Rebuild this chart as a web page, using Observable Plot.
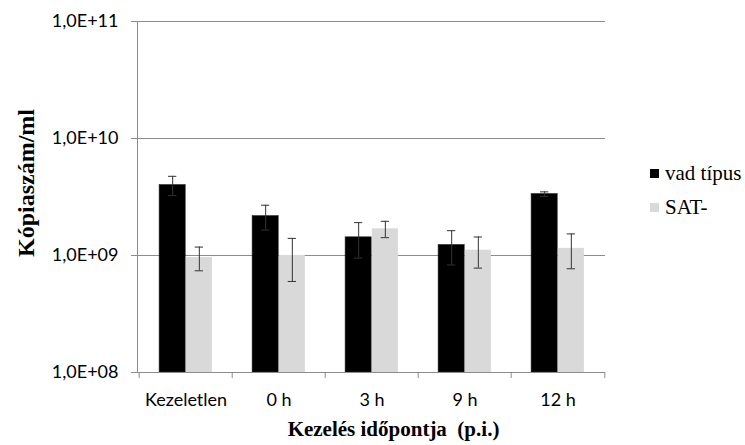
<!DOCTYPE html>
<html>
<head>
<meta charset="utf-8">
<script src="https://cdn.jsdelivr.net/npm/d3@7"></script>
<script src="https://cdn.jsdelivr.net/npm/@observablehq/plot@0.6"></script>
<style>
  html, body { margin: 0; padding: 0; background: #fff; }
  #chart { position: relative; width: 745px; height: 445px; }
  #legend { position: absolute; left: 650px; top: 156px; font-family: "Times New Roman", "Liberation Serif", "DejaVu Serif", serif; font-size: 21px; color: #000; }
  #legend .row { display: flex; align-items: center; height: 34px; }
  #legend .sw { width: 9px; height: 9px; margin-right: 6px; }
</style>
</head>
<body>
<div id="chart"></div>
<script>
// Categories (treatment time) and series values, copies/ml
const categories = ["Kezeletlen", "0 h", "3 h", "9 h", "12 h"];
const seriesNames = ["vad típus", "SAT-"];
const wildValues = [4.0e9, 2.17e9, 1.43e9, 1.23e9, 3.35e9];
const wildErrors = [0.75e9, 0.52e9, 0.48e9, 0.40e9, 0.15e9];
const satValues = [0.96e9, 1.0e9, 1.69e9, 1.11e9, 1.15e9];
const satErrors = [0.22e9, 0.40e9, 0.27e9, 0.33e9, 0.38e9];
const yTicks = [1e8, 1e9, 1e10, 1e11];
const yTitle = "Kópiaszám/ml";
const xTitle = "Kezelés időpontja  (p.i.)";

const colors = {"vad típus": "#000000", "SAT-": "#d9d9d9"};
const serif = "'Times New Roman', 'Liberation Serif', 'DejaVu Serif', serif";

const rows = [];
categories.forEach((c, i) => {
  rows.push({cat: c, series: seriesNames[0], v: wildValues[i], e: wildErrors[i]});
  rows.push({cat: c, series: seriesNames[1], v: satValues[i], e: satErrors[i]});
});
const wild = rows.filter(d => d.series === seriesNames[0]);
const sat = rows.filter(d => d.series === seriesNames[1]);

const W = 745, H = 445;
const mL = 137, mR = 140, mT = 21, mB = 73;
const bw = (W - mL - mR) / categories.length;   // band width per category
const gStart = 0.215, bFrac = 0.285, capInset = 0.095;
const gridColor = "#8c8c8c";

const fmt = d => {
  const e = Math.floor(Math.log10(d) + 1e-9);
  const m = d / Math.pow(10, e);
  return m.toFixed(1).replace(".", ",") + "E+" + String(e).padStart(2, "0");
};

// per-series horizontal placement inside a category band
const place = [
  {insetLeft: bw * gStart, insetRight: bw * (1 - gStart - bFrac)},
  {insetLeft: bw * (gStart + bFrac), insetRight: bw * (1 - gStart - 2 * bFrac)}
];
const center = [bw * (gStart + bFrac / 2 - 0.5), bw * (gStart + 1.5 * bFrac - 0.5)];

const errMarks = (data, k) => [
  Plot.ruleX(data, {x: "cat", y1: d => d.v - d.e, y2: d => d.v + d.e, dx: center[k], stroke: "#333", strokeWidth: 1}),
  Plot.tickY(data, {x: "cat", y: d => d.v + d.e, stroke: "#333", strokeWidth: 1,
    insetLeft: place[k].insetLeft + bw * capInset, insetRight: place[k].insetRight + bw * capInset}),
  Plot.tickY(data, {x: "cat", y: d => d.v - d.e, stroke: "#333", strokeWidth: 1,
    insetLeft: place[k].insetLeft + bw * capInset, insetRight: place[k].insetRight + bw * capInset})
];

const chart = Plot.plot({
  width: W,
  height: H,
  marginLeft: mL,
  marginRight: mR,
  marginTop: mT,
  marginBottom: mB,
  style: {fontFamily: "Lato, sans-serif", fontSize: "18px", color: "#000", background: "#fff"},
  x: {domain: categories, padding: 0, axis: null},
  y: {type: "log", domain: [yTicks[0], yTicks[yTicks.length - 1]], axis: null},
  marks: [
    Plot.ruleY(yTicks.slice(1), {stroke: gridColor, strokeWidth: 1}),
    Plot.barY(wild, {x: "cat", y1: yTicks[0], y2: "v", fill: colors[seriesNames[0]], stroke: "#222", strokeWidth: 0.6, ...place[0]}),
    Plot.barY(sat, {x: "cat", y1: yTicks[0], y2: "v", fill: colors[seriesNames[1]], ...place[1]}),
    ...errMarks(wild, 0),
    ...errMarks(sat, 1),
    Plot.ruleY([yTicks[0]], {stroke: gridColor, strokeWidth: 1}),
    Plot.frame({anchor: "left", stroke: gridColor, strokeWidth: 1}),
    Plot.axisY({ticks: yTicks, tickFormat: fmt, tickSize: 6, tickPadding: 13, stroke: gridColor, fill: "#000", fontSize: 18, label: null}),
    // category boundary ticks
    Plot.axisX({tickSize: 6, tickFormat: () => "", dx: -bw / 2, stroke: gridColor, label: null}),
    Plot.axisX([categories[categories.length - 1]], {tickSize: 6, tickFormat: () => "", dx: bw / 2, stroke: gridColor, label: null}),
    // category labels
    Plot.axisX({tickSize: 0, tickPadding: 21, fill: "#000", fontSize: 18, label: null}),
    Plot.text([xTitle], {frameAnchor: "bottom", dy: 57, dx: 22, lineAnchor: "middle", textAnchor: "middle",
      fontFamily: serif, fontWeight: "bold", fontSize: 21, fill: "#000"}),
    Plot.text([yTitle], {frameAnchor: "left", dx: -111, dy: -14, rotate: -90, lineAnchor: "middle", textAnchor: "middle",
      fontFamily: serif, fontWeight: "bold", fontSize: 24, fill: "#000"})
  ]
});

const root = document.getElementById("chart");
root.appendChild(chart);

const legend = document.createElement("div");
legend.id = "legend";
seriesNames.forEach(name => {
  const row = document.createElement("div");
  row.className = "row";
  const sw = document.createElement("span");
  sw.className = "sw";
  sw.style.background = colors[name];
  const label = document.createElement("span");
  label.textContent = name;
  row.appendChild(sw);
  row.appendChild(label);
  legend.appendChild(row);
});
root.appendChild(legend);
</script>
</body>
</html>
